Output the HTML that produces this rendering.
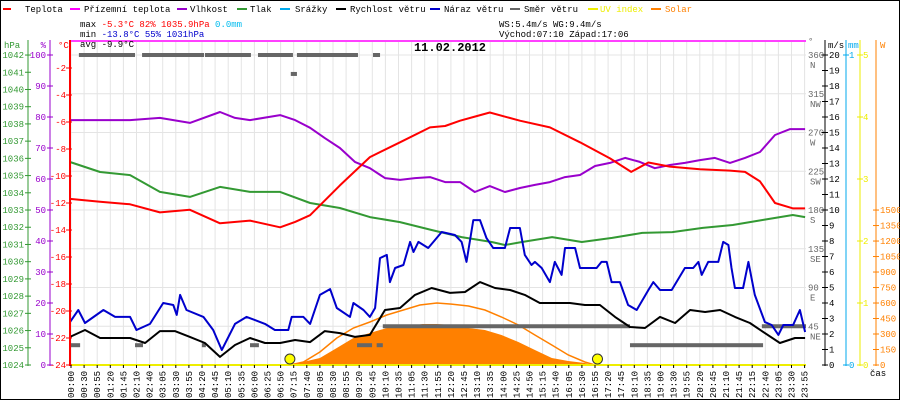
<!DOCTYPE html>
<html><head><meta charset="utf-8"><style>
html,body{margin:0;padding:0;background:#fff;}
svg{display:block;font-family:"Liberation Mono","DejaVu Sans Mono",monospace;}
</style></head><body>
<svg id="chart" width="900" height="400" viewBox="0 0 900 400" xmlns="http://www.w3.org/2000/svg">
<rect x="0.5" y="0.5" width="899" height="399" fill="#fff" stroke="#000"/>
<g id="grid"></g>
<g id="legend" font-size="9">
 <line x1="3" y1="9" x2="11" y2="9" stroke="#ff0000" stroke-width="2"/><text x="25" y="12">Teplota</text>
 <line x1="70" y1="9" x2="80" y2="9" stroke="#ff00ff" stroke-width="2"/><text x="84" y="12">Přízemní teplota</text>
 <line x1="177" y1="9" x2="187" y2="9" stroke="#9900cc" stroke-width="2"/><text x="190" y="12">Vlhkost</text>
 <line x1="237" y1="9" x2="247" y2="9" stroke="#339933" stroke-width="2"/><text x="250" y="12">Tlak</text>
 <line x1="280" y1="9" x2="290" y2="9" stroke="#00aaee" stroke-width="2"/><text x="295" y="12">Srážky</text>
 <line x1="336" y1="9" x2="346" y2="9" stroke="#000" stroke-width="2"/><text x="350" y="12">Rychlost větru</text>
 <line x1="430" y1="9" x2="440" y2="9" stroke="#0000cc" stroke-width="2"/><text x="444" y="12">Náraz větru</text>
 <line x1="510" y1="9" x2="520" y2="9" stroke="#666" stroke-width="2"/><text x="524" y="12">Směr větru</text>
 <line x1="588" y1="9" x2="598" y2="9" stroke="#eeee00" stroke-width="2"/><text x="600" y="12" fill="#eeee00">UV index</text>
 <line x1="651" y1="9" x2="661" y2="9" stroke="#ff8000" stroke-width="2"/><text x="665" y="12" fill="#ff8000">Solar</text>
</g>
<g font-size="9">
 <text x="80" y="27">max <tspan fill="#ff0000">-5.3°C</tspan> <tspan fill="#ff0000">82%</tspan>  <tspan fill="#ff0000">1035.9hPa</tspan>   <tspan fill="#00bbee">0.0mm</tspan></text>
 <text x="80" y="37">min <tspan fill="#0000cc">-13.8°C</tspan> <tspan fill="#0000cc">55%</tspan>  <tspan fill="#0000cc">1031hPa</tspan></text>
 <text x="80" y="47">avg -9.9°C</text>
 <text x="499" y="27">WS:5.4m/s    WG:9.4m/s</text>
 <text x="499" y="37">Východ:07:10 Západ:17:06</text>
 <text x="450" y="51" text-anchor="middle" font-size="12" font-weight="bold">11.02.2012</text>
</g>
<g id="series"></g>
<g id="axes" font-size="9"></g>
</svg>
<script>
// ---- data (time in hours on chart scale) ----
const xLabels = ["00:00","00:30","00:55","01:20","01:45","02:10","02:40","03:05","03:30","03:55","04:20","04:45","05:10","05:35","06:00","06:25","06:50","07:15","07:40","08:05","08:30","08:55","09:20","09:45","10:10","10:35","11:05","11:30","11:55","12:20","12:45","13:10","13:35","14:00","14:25","14:50","15:15","15:40","16:05","16:30","16:55","17:20","17:45","18:10","18:35","19:00","19:30","19:55","20:20","20:45","21:10","21:45","22:15","22:40","23:05","23:30","23:55"];

const tempT = [0,0.98,1.96,2.93,3.91,4.89,5.87,6.85,7.34,7.83,8.8,9.78,10.76,11.74,12.23,12.72,13.2,13.69,14.67,15.65,16.63,17.61,18.3,18.86,19.56,20.54,21.52,22.01,22.5,22.99,23.58,23.97];
const tempV = [-11.7,-11.9,-12.1,-12.7,-12.5,-13.5,-13.3,-13.8,-13.4,-12.9,-10.7,-8.6,-7.5,-6.4,-6.3,-5.9,-5.6,-5.3,-5.9,-6.4,-7.5,-8.7,-9.7,-9.0,-9.3,-9.5,-9.6,-9.7,-10.4,-12.0,-12.4,-12.4];

const humT = [0,0.98,1.96,2.93,3.91,4.89,5.38,5.87,6.85,7.34,7.83,8.31,8.8,9.29,9.78,10.27,10.76,11.25,11.74,12.23,12.72,13.2,13.69,14.18,14.67,15.16,15.65,16.14,16.63,17.12,17.61,18.1,18.58,19.07,19.56,20.05,20.54,21.03,21.52,22.01,22.5,22.99,23.48,23.97];
const humV = [79.0,79.0,79.0,79.7,78.1,81.6,79.7,79.0,80.6,79.0,76.5,73.2,70.0,65.5,63.5,60.3,59.7,60.3,60.6,59.0,59.0,55.8,57.7,55.8,57.1,58.1,59.0,60.6,61.3,64.2,65.2,66.8,65.5,63.5,64.5,65.2,66.1,66.8,65.2,66.8,68.7,74.2,76.1,76.1];

const presT = [0,0.98,1.96,2.93,3.91,4.89,5.87,6.85,7.83,8.8,9.78,10.76,11.79,12.77,13.75,14.18,14.74,15.72,16.69,17.68,18.66,19.64,20.63,21.61,22.58,23.57,23.97];
const presV = [1035.79,1035.21,1035.03,1034.05,1033.76,1034.34,1034.05,1034.05,1033.41,1033.12,1032.59,1032.30,1031.84,1031.43,1031.14,1030.97,1031.14,1031.43,1031.14,1031.38,1031.67,1031.72,1031.96,1032.13,1032.42,1032.71,1032.59];

const windT = [0,0.49,0.98,1.47,1.96,2.45,2.93,3.42,3.91,4.40,4.89,5.38,5.87,6.36,6.85,7.34,7.83,8.31,8.80,9.29,9.78,10.27,10.76,11.25,11.79,12.39,12.88,13.37,13.86,14.35,14.83,15.32,15.81,16.30,16.79,17.28,17.77,18.26,18.75,19.24,19.73,20.22,20.71,21.20,21.68,22.17,22.66,23.15,23.64,23.97];
const windV = [1.81,2.26,1.74,1.74,1.74,1.42,2.19,2.19,1.81,1.42,0.52,1.29,1.74,1.42,1.42,1.61,1.48,2.19,2.06,1.81,1.94,3.55,3.68,4.52,4.97,4.65,4.71,5.35,4.97,4.84,4.52,4.00,4.00,4.00,3.87,3.87,3.10,2.45,2.39,3.10,2.71,3.55,3.42,3.55,3.10,2.71,2.06,1.42,1.74,1.74];

const gustT = [0,0.27,0.49,1.09,1.47,1.96,2.17,2.61,3.04,3.37,3.48,3.59,3.80,4.35,4.67,4.95,5.38,5.76,6.36,6.68,7.12,7.23,7.61,7.83,8.15,8.48,8.70,9.13,9.24,9.57,9.78,9.95,10.11,10.33,10.43,10.60,10.87,11.09,11.20,11.36,11.68,11.85,12.12,12.55,12.77,12.93,13.15,13.37,13.58,13.80,14.18,14.35,14.67,14.83,15.05,15.16,15.38,15.65,15.81,16.03,16.14,16.47,16.63,17.17,17.33,17.50,17.66,17.93,18.20,18.48,18.86,19.02,19.24,19.62,20.05,20.32,20.49,20.60,20.81,21.14,21.30,21.47,21.57,21.68,21.95,22.12,22.33,22.66,22.88,23.10,23.26,23.58,23.80,23.97];
const gustV = [2.77,3.55,2.71,3.55,3.10,3.10,2.26,2.65,4.00,3.87,3.23,4.52,3.55,3.10,2.26,0.97,2.65,3.10,2.65,2.26,2.26,3.10,3.10,2.65,4.52,4.90,3.68,3.10,4.00,3.55,3.10,3.68,6.90,7.10,5.35,6.26,6.45,7.94,7.29,7.94,7.55,7.94,8.58,8.39,7.94,6.65,9.35,9.35,8.19,7.55,7.55,8.84,8.84,7.10,6.45,6.65,6.26,5.35,6.65,5.81,7.55,7.55,6.26,6.26,6.65,6.65,5.35,5.35,3.87,3.55,4.84,5.35,4.84,4.84,6.26,6.26,6.65,5.81,6.65,6.65,7.94,7.74,6.26,4.97,4.97,6.65,4.52,2.77,2.58,1.94,2.58,2.58,3.55,2.13];

const dirStart = [0.29,2.35,4.40,6.13,7.40,9.88,7.20,0.00,2.12,4.30,5.87,9.36,10.00,10.20,18.26,22.56];
const dirEnd   = [2.12,4.37,5.90,7.27,9.39,10.11,7.40,0.33,2.38,4.43,6.16,9.85,10.20,18.26,22.60,24.00];
const dirDeg   = [360,360,360,360,360,360,338,23,23,23,23,23,23,45,23,45];

const solarT = [7.17,8.15,8.70,9.24,9.78,10.33,10.87,11.50,11.96,12.44,12.99,13.53,14.07,14.62,15.16,15.71,16.25,16.79,17.01];
const solarV = [0,68,165,261,310,358,368,397,397,387,358,339,290,223,145,68,39,19,0];

const theoT = [7.17,7.61,8.15,8.70,9.24,9.78,10.33,10.87,11.41,11.96,12.44,12.99,13.53,14.07,14.62,15.16,15.71,16.25,16.79,17.12];
const theoV = [0,29,126,261,358,416,484,532,581,600,590,571,532,465,387,290,194,97,29,0];

const sunEvents = [7.17,17.2];
const uvT = [0,24];
const uvV = [0,0];

// ---- scales ----
function X(h){return 70 + h*30.667;}
function yT(t){return 41 - t*13.5;}
function yP(p){return 365 - (p-1024)*17.22;}
function yH(v){return 365 - v*3.1;}
function yV(v){return 365 - v*15.5;}
function yD(d){return 365 - d*0.8611;}
function yW(w){return 365 - w*0.1033;}
function yU(u){return 365 - u*62;}

const NS="http://www.w3.org/2000/svg";
function mk(tag, attrs, parent){const e=document.createElementNS(NS,tag);for(const k in attrs)e.setAttribute(k,attrs[k]);parent.appendChild(e);return e;}
const grid=document.getElementById('grid'), series=document.getElementById('series'), axes=document.getElementById('axes');

// grid
for(let i=0;i<xLabels.length;i++){
  const gx=71+i*13.1;
  const l=mk('line',{x1:gx,y1:42,x2:gx,y2:364,stroke:'#e4e4e4'},grid);
  
  
}
for(let d=0;d<=360;d+=45){
  const l=mk('line',{x1:70,y1:yD(d),x2:806,y2:yD(d),stroke:'#e4e4e4'},grid);
  
  
}
const topLine=mk('line',{x1:70,y1:41,x2:806,y2:41,stroke:'#ff00ff',"stroke-width":1.5},grid);



function pathFrom(ts,vs,fy){let d='';for(let i=0;i<ts.length;i++){d+=(i?'L':'M')+X(ts[i]).toFixed(1)+' '+fy(vs[i]).toFixed(1);}return d;}

// solar area
let sd=pathFrom(solarT,solarV,yW)+'L'+X(solarT[solarT.length-1]).toFixed(1)+' 365L'+X(solarT[0]).toFixed(1)+' 365Z';
const solar=mk('path',{d:sd,fill:'#ff8000',stroke:'none'},series);


const theo=mk('path',{d:pathFrom(theoT,theoV,yW),fill:'none',stroke:'#ff8000','stroke-width':1.5},series);



// direction bars
for(let i=0;i<dirDeg.length;i++){
  const r=mk('rect',{x:X(dirStart[i]),y:yD(dirDeg[i])-2,width:Math.max(2,X(dirEnd[i])-X(dirStart[i])),height:4,fill:'#666'},series);
  
  
}

const lines=[
 ['pressure-line',presT,presV,yP,'#339933'],
 ['humidity-line',humT,humV,yH,'#9900cc'],
 ['temperature-line',tempT,tempV,yT,'#ff0000'],
 ['wind-gust-line',gustT,gustV,yV,'#0000cc'],
 ['wind-speed-line',windT,windV,yV,'#000000'],
 ['uv-index-line',uvT,uvV,yU,'#eeee00']
];
for(const s of lines){
  const p=mk('path',{d:pathFrom(s[1],s[2],s[3]),fill:'none',stroke:s[4],'stroke-width':2,'stroke-linejoin':'round'},series);
  
  
}
for(const h of sunEvents){
  const c=mk('circle',{cx:X(h),cy:359,r:5,fill:'#ffff00',stroke:'#333','stroke-width':1},series);
  
  
}

// axes
function axisLine(x,color,w,name){const l=mk('line',{x1:x,y1:40,x2:x,y2:366,stroke:color,'stroke-width':w},axes);}
function label(x,y,txt,color,anchor,name){const t=mk('text',{x:x,y:y,fill:color,'text-anchor':anchor},axes);t.textContent=txt;return t;}
function tick(x1,x2,y,color){const l=mk('line',{x1:x1,y1:y,x2:x2,y2:y,stroke:color},axes);}

axisLine(28,'#339933',1,'pressure-axis');
axisLine(50,'#9900cc',1,'humidity-axis');
axisLine(70,'#ff0000',2,'temperature-axis');
axisLine(825,'#000',1,'wind-speed-axis');
axisLine(846,'#00aaee',1,'rain-axis');
axisLine(860,'#eeee00',1,'uv-axis');
axisLine(876,'#ff8000',1,'solar-axis');
label(4,48,'hPa','#339933','start','pressure-axis-title');
label(46,48,'%','#9900cc','end','humidity-axis-title');
label(58,48,'°C','#ff0000','start','temperature-axis-title');
label(808,44,'°','#666','start','direction-axis-title');
label(828,48,'m/s','#000','start','wind-axis-title');
label(848,48,'mm','#00aaee','start','rain-axis-title');
label(880,48,'W','#ff8000','start','solar-axis-title');
label(870,376,'čas','#000','start','time-axis-title');

for(let p=1024;p<=1042;p++){tick(25,31,yP(p),'#339933');label(24,yP(p)+3,String(p),'#339933','end','pressure-tick-label');}
for(let h=0;h<=100;h+=10){tick(47,53,yH(h),'#9900cc');label(46,yH(h)+3,String(h),'#9900cc','end','humidity-tick-label');}
for(let t=-2;t>=-24;t-=2){tick(66,72,yT(t),'#ff0000');label(66,yT(t)+3,String(t),'#ff0000','end','temperature-tick-label');}
const dirNames=['','NE','E','SE','S','SW','W','NW','N'];
for(let i=1;i<=8;i++){const d=i*45;label(808,yD(d)+3,String(d),'#666','start','direction-tick-label');label(810,yD(d)+13,dirNames[i],'#666','start','direction-name-label');}
for(let v=0;v<=20;v++){tick(822,828,yV(v),'#000');label(829,yV(v)+3,String(v),'#000','start','wind-tick-label');}
tick(843,849,yV(20),'#00aaee');label(849,yV(20)+3,'1','#00aaee','start','rain-tick-label');
tick(843,849,365,'#00aaee');label(849,368,'0','#00aaee','start','rain-tick-label');
for(let u=0;u<=5;u++){tick(857,863,yU(u),'#eeee00');label(863,yU(u)+3,String(u),'#eeee00','start','uv-tick-label');}
for(let w=0;w<=1500;w+=150){tick(873,879,yW(w),'#ff8000');label(880,yW(w)+3,String(w),'#ff8000','start','solar-tick-label');}

for(let i=0;i<xLabels.length;i++){
  const gx=71+i*13.1;
  tick(gx,gx,0,'#000');
  const tk=mk('line',{x1:gx,y1:365,x2:gx,y2:368,stroke:'#000'},axes);
  
  
  const t=mk('text',{x:0,y:0,transform:'translate('+(gx+3)+',398) rotate(-90)','font-size':9},axes);
  t.textContent=xLabels[i];
  
  
}
</script>
</body></html>
